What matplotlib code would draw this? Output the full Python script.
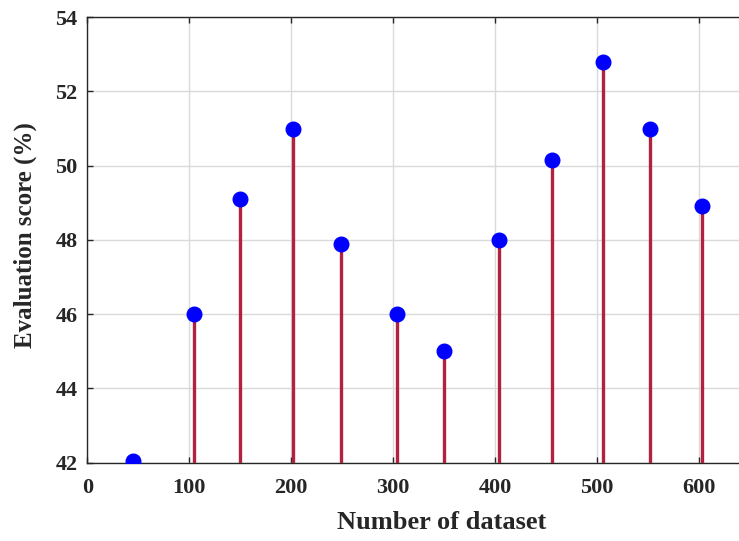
import matplotlib
matplotlib.use('Agg')
import matplotlib.pyplot as plt

# dataset sizes and evaluation scores
dataset_sizes = [45, 105, 150, 202, 249, 304, 350, 404, 456, 506, 552, 603]
eval_scores = [42.05, 46.0, 49.1, 51.0, 47.9, 46.0, 45.0, 48.0, 50.15, 52.8, 51.0, 48.9]
x_ticks = [0, 100, 200, 300, 400, 500, 600]
y_ticks = [42, 44, 46, 48, 50, 52, 54]

plt.rcParams['font.family'] = ['Liberation Serif', 'DejaVu Serif']
plt.rcParams['font.weight'] = 'bold'

fig = plt.figure(figsize=(7.39, 5.41), dpi=100)
ax = fig.add_axes([0.1181, 0.1451, 0.8819, 0.8230])

stem_color = '#B0223F'
ax.vlines(dataset_sizes, 42, eval_scores, color=stem_color, linewidth=2.4, zorder=3)
ax.plot(dataset_sizes, eval_scores, linestyle='none', marker='o', markersize=10.5,
        markerfacecolor='#0000FF', markeredgecolor='#0000FF', zorder=4)

ax.set_xlim(0, 639.5)
ax.set_ylim(42, 54)
ax.set_xticks(x_ticks)
ax.set_yticks(y_ticks)
ax.grid(True, color='#DADADA', linewidth=1.0)
ax.set_axisbelow(True)

ax.tick_params(direction='in', length=4, width=1, colors='#262626',
               labelsize=16, top=True)
ax.tick_params(axis='x', pad=11)
ax.tick_params(axis='y', pad=7)
for lbl in ax.get_xticklabels() + ax.get_yticklabels():
    lbl.set_fontweight('bold')

for side in ['left', 'top', 'bottom']:
    ax.spines[side].set_color('#262626')
    ax.spines[side].set_linewidth(1.0)
ax.spines['right'].set_visible(False)

ax.set_xlabel('Number of dataset', fontsize=19, fontweight='bold', color='#262626')
ax.set_ylabel('Evaluation score (%)', fontsize=18, fontweight='bold', color='#262626')
ax.xaxis.set_label_coords(0.543, -0.108)
ax.yaxis.set_label_coords(-0.077, 0.51)

fig.savefig('out.png', dpi=100)
